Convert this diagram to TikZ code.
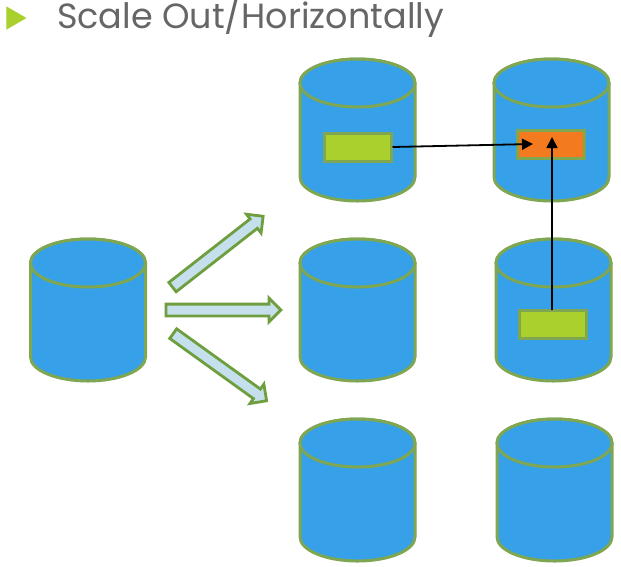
\documentclass[tikz,border=0pt]{standalone}
\usepackage{fontspec}
\setmainfont{Poppins}
\usetikzlibrary{shapes.arrows,shapes.geometric,arrows.meta}
\definecolor{cylblue}{HTML}{36A0E8}
\definecolor{cylline}{HTML}{7FA650}
\definecolor{limefill}{HTML}{A9D02C}
\definecolor{orangefill}{HTML}{F47A20}
\definecolor{arrowfill}{HTML}{C5E0EC}
\definecolor{arrowline}{HTML}{6E9E3E}
\definecolor{titlegray}{HTML}{666666}
\tikzset{
  cylbody/.style={fill=cylblue,draw=cylline,line width=3pt},
  blockarrow/.style={single arrow,draw=arrowline,fill=arrowfill,line width=2.8pt,
    minimum height=115pt,minimum width=22pt,inner xsep=0pt,inner ysep=4.5pt,
    single arrow head extend=6pt,single arrow tip angle=90,anchor=center},
  chip/.style={draw=cylline,line width=3pt,minimum width=67pt,minimum height=28pt,inner sep=0pt},
  flow/.style={draw=black,line width=1.8pt,-{Triangle[length=11pt,width=11pt]}},
  pics/cyl/.style={code={
    \path[cylbody] (-57.5,-47) -- (-57.5,47) arc[start angle=180,end angle=0,x radius=57.5,y radius=24]
      -- (57.5,-47) arc[start angle=0,end angle=-180,x radius=57.5,y radius=24] -- cycle;
    \path[cylbody] (0,-47) ellipse[x radius=57.5,y radius=24];
  }}
}
\begin{document}
\begin{tikzpicture}[x=1pt,y=-1pt]
\useasboundingbox (0,0) rectangle (621,566);
\fill[white] (0,0) rectangle (621,566);
% title
\node[regular polygon,regular polygon sides=3,shape border rotate=-90,fill=limefill,minimum size=27pt,inner sep=0pt] (bullet) at (13,18) {};
\node[anchor=base west,inner sep=0pt,text=titlegray,font=\fontsize{35}{35}\selectfont] (title) at (57,28) {Scale Out/Horizontally};
% cylinders
\pic at (88,310) {cyl};
\pic at (357.5,130) {cyl};
\pic at (357.5,310) {cyl};
\pic at (357.5,490) {cyl};
\pic at (551.5,130) {cyl};
\pic at (553.5,310) {cyl};
\pic at (554.5,490) {cyl};
% block arrows
\node[blockarrow,rotate=38] (up) at (215.5,253.5) {};
\node[blockarrow] (mid) at (220.5,310) {};
\node[blockarrow,rotate=-35.7] (down) at (217.5,365.5) {};
% chips
\node[chip,fill=limefill] (src1) at (357.5,147) {};
\node[chip,fill=orangefill] (dst) at (550.5,144.5) {};
\node[chip,fill=limefill] (src2) at (553,324.5) {};
% connectors
\coordinate (hit1) at (533,144);
\coordinate (hit2) at (552,137);
\coordinate (from2) at (552,310);
\draw[flow] (src1.east) -- (hit1);
\draw[flow] (from2) -- (hit2);
\end{tikzpicture}
\end{document}
